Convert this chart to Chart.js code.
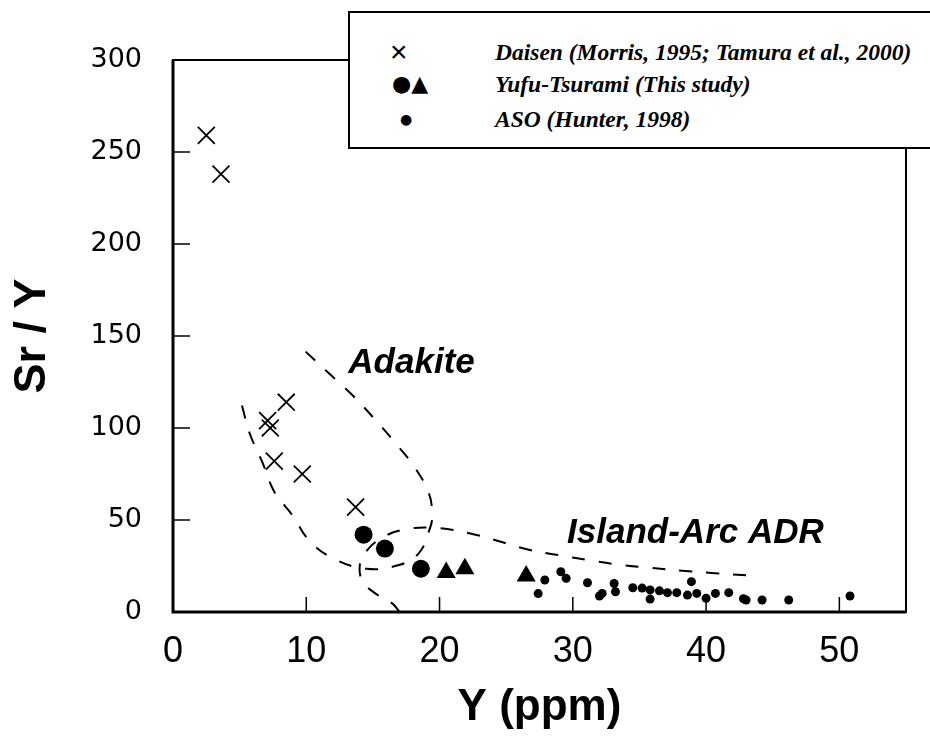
<!DOCTYPE html>
<html>
<head>
<meta charset="utf-8">
<script src="https://cdn.jsdelivr.net/npm/chart.js@4.4.1/dist/chart.umd.min.js"></script>
<style>
  body { margin: 0; background: #fff; }
  #wrap { position: relative; width: 930px; height: 738px; overflow: hidden; }
  #key {
    position: absolute; left: 348px; top: 11px; width: 600px; height: 134px;
    background: #fff; border: 2px solid #000;
    font-family: "Liberation Serif", serif; font-style: italic; font-weight: bold;
    font-size: 23.5px; color: #000;
  }
  #key .row { position: absolute; left: 0; height: 30px; line-height: 30px; white-space: nowrap; }
  #key .mk { position: absolute; font-style: normal; font-family: "DejaVu Sans", sans-serif; }
  #key .txt { position: absolute; left: 145px; }
</style>
</head>
<body>
<div id="wrap">
  <canvas id="grafico" width="930" height="738"></canvas>
  <div id="key">
    <div class="row" style="top: 24px;"><span class="mk" style="left: 40px; font-size: 30px; font-weight: normal; font-family: 'Liberation Sans';">&#xD7;</span><span class="txt">Daisen (Morris, 1995; Tamura et al., 2000)</span></div>
    <div class="row" style="top: 56px;"><span class="mk" style="left: 42px; font-size: 22px;">&#x25CF;&#x25B2;</span><span class="txt">Yufu-Tsurami (This study)</span></div>
    <div class="row" style="top: 91px;"><span class="mk" style="left: 50px; font-size: 14px;">&#x25CF;</span><span class="txt">ASO (Hunter, 1998)</span></div>
  </div>
</div>
<script>
// Daisen (x marks)
var daisenY = [2.5, 3.6, 8.5, 7.1, 7.3, 7.6, 9.7, 13.7]
var daisenSrY = [259, 238, 114, 104, 100, 82, 75, 57]

// Yufu-Tsurami, circles and triangles
var yufuCircY = [14.3, 15.9, 18.6]
var yufuCircSrY = [42, 34.5, 23.5]
var yufuTriY = [20.5, 21.9, 26.5]
var yufuTriSrY = [21.5, 23.5, 19.5]

// ASO (small dots)
var asoY = [27.4, 27.9, 29.1, 29.5, 31.1, 32.0, 32.2, 33.1, 33.2, 34.5, 35.2, 35.8, 35.8, 36.5,
            37.1, 37.8, 38.6, 38.9, 39.3, 40.0, 40.7, 41.7, 42.8, 43.0, 44.2, 46.2, 50.8]
var asoSrY = [10, 17.4, 21.9, 18.3, 15.9, 8.7, 10.1, 15.5, 11, 13.2, 13, 12, 7, 11.5,
              10.5, 10.5, 9.2, 16.5, 10.1, 7.5, 10.1, 10.5, 7.2, 6.5, 6.5, 6.5, 8.7]

// field boundaries (dashed)
var adakiteY = [9.95, 11.7, 13.45, 15.2, 16.7, 18.1, 19.2, 19.45, 19.3, 18.45, 16.95, 14.5, 12.0, 10.2, 8.95, 7.6, 6.7, 5.8, 5.2, 5.05]
var adakiteSrY = [141.5, 129.7, 117.9, 104.3, 91.7, 79, 64.5, 53, 46, 32, 25.5, 23.5, 29.2, 39, 52.7, 65.4, 81.5, 96.2, 111.6, 117]
var adrY = [17.0, 16.45, 15.2, 14.3, 14.0, 14.3, 15.6, 17.5, 20.0, 22.7, 24.4, 26.7, 29.0, 31.2, 33.5, 35.8, 38.2, 40.4, 43.0]
var adrSrY = [0, 4.7, 10, 16, 23, 31, 40, 45, 45.5, 42, 38.6, 33.8, 30.8, 28.2, 25.7, 24, 22.4, 21.2, 20]

// field names
var campoNome = ['Adakite', 'Island-Arc ADR']
var campoY = [17.9, 39.2]
var campoSrY = [135, 43]

function pares(xs, ys) {
    var lista = []
    for (var i = 0; i < xs.length; i++) {
        lista.push({ x: xs[i], y: ys[i] })
    }
    return lista
}

// frame around the plot + inward tick marks
var moldura = {
    id: 'moldura',
    afterDraw: function(chart) {
        var ctx = chart.ctx
        var a = chart.chartArea
        var sx = chart.scales.x
        var sy = chart.scales.y
        ctx.save()
        ctx.strokeStyle = '#000'
        ctx.lineWidth = 2
        ctx.strokeRect(a.left, a.top, a.right - a.left, a.bottom - a.top)
        ctx.lineWidth = 3
        ctx.beginPath()
        ctx.moveTo(a.left, a.top)
        ctx.lineTo(a.left, a.bottom)
        ctx.lineTo(a.right, a.bottom)
        ctx.stroke()
        ctx.lineWidth = 1.5
        ctx.beginPath()
        for (var v = 50; v < 300; v += 50) {
            var py = sy.getPixelForValue(v)
            ctx.moveTo(a.left, py)
            ctx.lineTo(a.left + 17, py)
        }
        for (var u = 10; u <= 50; u += 10) {
            var px = sx.getPixelForValue(u)
            ctx.moveTo(px, a.bottom)
            ctx.lineTo(px, a.bottom - 15)
        }
        ctx.stroke()
        ctx.restore()
    }
}

// field labels, placed in data units
var rotulos = {
    id: 'rotulos',
    afterDatasetsDraw: function(chart) {
        var ctx = chart.ctx
        ctx.save()
        ctx.font = 'italic bold 35px "Liberation Sans"'
        ctx.fillStyle = '#000'
        ctx.textAlign = 'center'
        ctx.textBaseline = 'middle'
        for (var i = 0; i < campoNome.length; i++) {
            ctx.fillText(campoNome[i], chart.scales.x.getPixelForValue(campoY[i]), chart.scales.y.getPixelForValue(campoSrY[i]))
        }
        ctx.restore()
    }
}

var tracejado = {
    showLine: true, pointRadius: 0, borderColor: '#000', borderWidth: 2,
    borderDash: [13, 14], tension: 0.4, fill: false
}

var ctx = document.getElementById('grafico')
var chart = new Chart(ctx, {
    type: 'scatter',
    data: {
        datasets: [
            Object.assign({ label: 'Adakite', data: pares(adakiteY, adakiteSrY) }, tracejado),
            Object.assign({ label: 'Island-Arc ADR', data: pares(adrY, adrSrY) }, tracejado),
            {
                label: 'Daisen', data: pares(daisenY, daisenSrY),
                pointStyle: 'crossRot', pointRadius: 12, borderColor: '#000', borderWidth: 1.8
            },
            {
                label: 'Yufu-Tsurami', data: pares(yufuCircY, yufuCircSrY),
                pointStyle: 'circle', pointRadius: 9, backgroundColor: '#000', borderColor: '#000', borderWidth: 0
            },
            {
                label: 'Yufu-Tsurami', data: pares(yufuTriY, yufuTriSrY),
                pointStyle: 'triangle', pointRadius: 11, backgroundColor: '#000', borderColor: '#000', borderWidth: 0
            },
            {
                label: 'ASO', data: pares(asoY, asoSrY),
                pointStyle: 'circle', pointRadius: 4.5, backgroundColor: '#000', borderColor: '#000', borderWidth: 0
            }
        ]
    },
    options: {
        responsive: false,
        animation: false,
        layout: { padding: { top: 60, right: 24, left: 0, bottom: 0 } },
        plugins: { legend: { display: false }, tooltip: { enabled: false } },
        scales: {
            x: {
                type: 'linear', min: 0, max: 55,
                grid: { display: false }, border: { display: false },
                ticks: {
                    stepSize: 10, includeBounds: false, padding: 10, color: '#000',
                    font: { family: 'Liberation Sans', size: 36 }
                },
                title: {
                    display: true, text: 'Y (ppm)', color: '#000',
                    font: { family: 'Liberation Sans', size: 44, weight: 'bold' },
                    padding: { top: 0, bottom: 4 }
                },
                afterFit: function(s) { s.height = 126 }
            },
            y: {
                type: 'linear', min: 0, max: 300,
                grid: { display: false }, border: { display: false },
                ticks: {
                    stepSize: 50, padding: 23, color: '#000',
                    font: { family: 'DejaVu Sans', size: 27 }
                },
                title: {
                    display: true, text: 'Sr / Y', color: '#000',
                    font: { family: 'Liberation Sans', size: 45, weight: 'bold' },
                    padding: { top: 6, bottom: 0 }
                },
                afterFit: function(s) { s.width = 173 }
            }
        }
    },
    plugins: [moldura, rotulos]
})
</script>
</body>
</html>
